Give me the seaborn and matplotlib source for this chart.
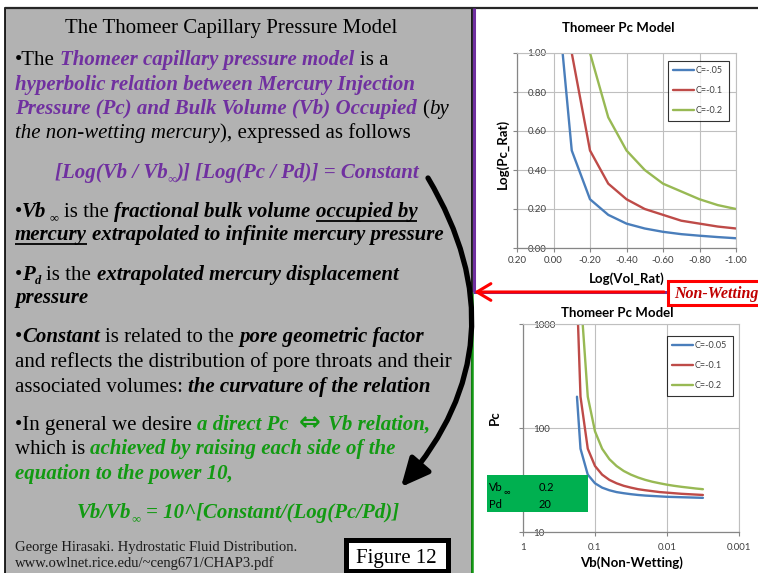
import matplotlib
matplotlib.use('Agg')
import matplotlib.pyplot as plt
import matplotlib.transforms as mtransforms
from matplotlib.patches import Rectangle, FancyArrowPatch
from matplotlib.lines import Line2D
import numpy as np
import pandas as pd
import seaborn as sns

# ---------------- data ----------------
log_vol_rat = [-0.05, -0.1, -0.2, -0.3, -0.4, -0.5, -0.6, -0.7, -0.8, -0.9, -1.0]
log_pc_rat_c005 = [1.00, 0.50, 0.25, 0.17, 0.125, 0.10, 0.083, 0.071, 0.063, 0.056, 0.05]
log_pc_rat_c01 = [2.00, 1.00, 0.50, 0.33, 0.25, 0.20, 0.17, 0.14, 0.125, 0.11, 0.10]
log_pc_rat_c02 = [4.00, 2.00, 1.00, 0.67, 0.50, 0.40, 0.33, 0.29, 0.25, 0.22, 0.20]
top_labels = ['C=-.05', 'C=-0.1', 'C=-0.2']
top_xticks = [0.2, 0.0, -0.2, -0.4, -0.6, -0.8, -1.0]
top_xticklabels = ['0.20', '0.00', '-0.20', '-0.40', '-0.60', '-0.80', '-1.00']
top_yticks = [0.0, 0.2, 0.4, 0.6, 0.8, 1.0]
top_yticklabels = ['0.00', '0.20', '0.40', '0.60', '0.80', '1.00']

vb_nonwetting = [0.178, 0.159, 0.126, 0.100, 0.0796, 0.0632, 0.0502, 0.0399, 0.0317,
                 0.0252, 0.0200, 0.0159, 0.0126, 0.0100, 0.00796, 0.00632, 0.00502,
                 0.00399, 0.00317]
pc_c005 = [200, 63.2, 35.6, 29.4, 26.7, 25.2, 24.2, 23.6, 23.1, 22.7, 22.4, 22.2, 22.0,
           21.8, 21.7, 21.6, 21.5, 21.4, 21.3]
pc_c01 = [2000, 200, 63.2, 43.1, 35.6, 31.7, 29.4, 27.8, 26.7, 25.8, 25.2, 24.7, 24.2,
          23.9, 23.6, 23.3, 23.1, 22.9, 22.7]
pc_c02 = [200000, 2000, 200, 92.8, 63.2, 50.2, 43.1, 38.6, 35.6, 33.4, 31.7, 30.4, 29.4,
          28.5, 27.8, 27.2, 26.7, 26.2, 25.8]
bottom_labels = ['C=-0.05', 'C=-0.1', 'C=-0.2']
bottom_xticks = [1, 0.1, 0.01, 0.001]
bottom_xticklabels = ['1', '0.1', '0.01', '0.001']
bottom_yticks = [10, 100, 1000]
bottom_yticklabels = ['10', '100', '1000']
param_names = ['Vb', 'Pd']
param_values = ['0.2', '20']

line_colors = ['#4a7ebb', '#be4b48', '#98b954']

# ---------------- setup ----------------
sns.set_style('white')
plt.rcParams['font.family'] = ['Lato', 'DejaVu Sans']

W, H = 758, 573
fig = plt.figure(figsize=(W / 100, H / 100), dpi=100)
fig.patch.set_facecolor('white')
T = mtransforms.Affine2D().scale(1.0 / W, -1.0 / H).translate(0, 1) + fig.transFigure
R = fig.canvas.get_renderer()


def frect(x0, y0, x1, y1, **kw):
    r = Rectangle((x0, y0), x1 - x0, y1 - y0, transform=T, **kw)
    fig.add_artist(r)
    return r


def fline(xs, ys, **kw):
    l = Line2D(xs, ys, transform=T, solid_capstyle='butt', **kw)
    fig.add_artist(l)
    return l


# ---------------- left text panel ----------------
frect(5, 8, 472, 580, facecolor='#b2b2b2', edgecolor='black', lw=1.2, zorder=0)
fline([5, 758], [8, 8], color='#262626', lw=1.6, zorder=2)

BODY = 15
SERIF = ['Liberation Serif', 'DejaVu Serif']
PURPLE = '#7030a0'
GREEN = '#129a12'


def sty(kind, size=BODY):
    d = dict(family=SERIF, size=size, color='black', weight='normal', style='normal')
    if kind in ('BI', 'P', 'G'):
        d.update(weight='bold', style='italic')
    if kind == 'I':
        d.update(style='italic')
    if kind == 'P':
        d['color'] = PURPLE
    if kind == 'G':
        d['color'] = GREEN
    return d


def twidth(s, kw):
    if not s:
        return 0.0
    t = fig.text(0, 0, s, **kw)
    w = t.get_window_extent(R).width
    t.remove()
    return w


def rich(y, segs, x=15, center=None, size=BODY):
    items = []
    total = 0.0
    for seg in segs:
        s, kind = seg[0], seg[1]
        opts = seg[2] if len(seg) > 2 else {}
        kw = sty(kind, size * opts.get('scale', 1.0))
        if 'family' in opts:
            kw['family'] = opts['family']
            kw['style'] = 'normal'
        base = sty(kind, size * opts.get('scale', 1.0))
        sp = twidth('x x', base) - twidth('xx', base)
        lead = len(s) - len(s.lstrip(' '))
        trail = len(s) - len(s.rstrip(' '))
        core = s.strip(' ')
        wc = twidth(core, kw)
        items.append((core, kw, total + lead * sp, wc, opts))
        total += lead * sp + wc + trail * sp + opts.get('extra', 0)
    x0 = center - total / 2 if center is not None else x
    for core, kw, off, wc, opts in items:
        if not core:
            continue
        fig.text(x0 + off, y + opts.get('dy', 0), core, transform=T,
                 va='baseline', ha='left', zorder=3, **kw)
        if opts.get('ul'):
            fline([x0 + off, x0 + off + wc], [y + 3.5, y + 3.5], color=kw['color'],
                  lw=1.3, zorder=3)


SUB = {'scale': 0.6, 'dy': 4}
fig.text(231, 33, 'The Thomeer Capillary Pressure Model', transform=T, ha='center',
         va='baseline', family=SERIF, size=BODY, color='black', zorder=3)
rich(65, [('•The ', 'N'), ('Thomeer capillary pressure model', 'P'), (' is a', 'N')])
rich(90, [('hyperbolic relation between Mercury Injection', 'P')])
rich(114, [('Pressure (Pc) and Bulk Volume (Vb) Occupied', 'P'), (' (', 'N'), ('by', 'I')])
rich(138, [('the non-wetting mercury', 'I'), ('), expressed as follows', 'N')])
rich(178, [('[Log(Vb / Vb', 'P'), ('∞', 'P', SUB), (')] [Log(Pc / Pd)] = Constant', 'P')],
     center=237)
rich(217, [('•', 'N'), ('Vb', 'BI'), (' ∞', 'N', SUB), (' is the ', 'N'),
           ('fractional bulk volume ', 'BI'), ('occupied by', 'BI', {'ul': True})])
rich(240, [('mercury', 'BI', {'ul': True}),
           (' extrapolated to infinite mercury pressure', 'BI')])
rich(280, [('•', 'N'), ('P', 'BI'), ('d', 'BI', SUB), (' is the ', 'N'),
           ('extrapolated mercury displacement', 'BI')])
rich(303, [('pressure', 'BI')])
rich(342, [('•', 'N'), ('Constant', 'BI'), (' is related to the ', 'N'),
           ('pore geometric factor', 'BI')])
rich(367, [('and reflects the distribution of pore throats and their', 'N')])
rich(392, [('associated volumes: ', 'N'), ('the curvature of the relation', 'BI')])
rich(430, [('•In general we desire ', 'N'), ('a direct Pc  ', 'G'),
           ('⇔', 'G', {'family': ['DejaVu Sans'], 'scale': 1.25, 'extra': 2, 'dy': 0.5}),
           (' Vb relation,', 'G')])
rich(454, [('which is ', 'N'), ('achieved by raising each side of the', 'G')])
rich(479, [('equation to the power 10,', 'G')])
rich(518, [('Vb/Vb', 'G'), ('∞', 'G', SUB), (' = 10^[Constant/(Log(Pc/Pd)]', 'G')],
     center=238)
fig.text(15, 551, 'George Hirasaki. Hydrostatic Fluid Distribution.', transform=T,
         va='baseline', family=SERIF, size=10.5, color='#1a1a1a', zorder=3)
fig.text(15, 567, 'www.owlnet.rice.edu/~ceng671/CHAP3.pdf', transform=T,
         va='baseline', family=SERIF, size=10.5, color='#1a1a1a', zorder=3)
frect(345.5, 539.5, 447.5, 570.5, facecolor='white', edgecolor='black', lw=3.6, zorder=3)
fig.text(396, 563, 'Figure 12', transform=T, ha='center', va='baseline', family=SERIF,
         size=15, color='black', zorder=4)

# right-side borders and connector
fline([473.5, 473.5], [8, 292], color=PURPLE, lw=2.2, zorder=2)
fline([472, 472], [292, 575], color='#139a13', lw=1.8, zorder=2)
fline([473, 668], [292, 292], color=PURPLE, lw=2.2, zorder=2)
red_arrow = FancyArrowPatch(posA=(664, 292), posB=(474, 292), transform=T,
                            arrowstyle='->,head_length=1.0,head_width=0.6',
                            mutation_scale=10, color='#ff0000', lw=2.2,
                            shrinkA=0, shrinkB=0, zorder=4)
fig.add_artist(red_arrow)
frect(668, 281, 770, 305, facecolor='white', edgecolor='#ff0000', lw=2.2, zorder=5)
fig.text(716, 298, 'Non-Wetting', transform=T, ha='center', va='baseline', family=SERIF,
         weight='bold', style='italic', size=11.5, color='#c00000', zorder=6)

curve_arrow = FancyArrowPatch(posA=(428, 178), posB=(401, 487), transform=T,
                              connectionstyle='arc3,rad=-0.36',
                              arrowstyle='-|>,head_length=0.85,head_width=0.4',
                              mutation_scale=20, color='black', lw=3.8,
                              shrinkA=0, shrinkB=0, zorder=4)
fig.add_artist(curve_arrow)


# ---------------- charts ----------------
def style_axes(ax):
    ax.set_facecolor('white')
    for side in ['top', 'right']:
        ax.spines[side].set_color('#bfbfbf')
        ax.spines[side].set_linewidth(0.8)
    for side in ['left', 'bottom']:
        ax.spines[side].set_color('#868686')
        ax.spines[side].set_linewidth(0.9)
    ax.grid(True, which='major', color='#bfbfbf', lw=0.8)
    ax.grid(False, which='minor')
    ax.set_axisbelow(True)
    ax.tick_params(axis='both', which='major', length=3, width=0.8, color='#868686',
                   labelsize=7, labelcolor='#404040', left=True, bottom=True)
    ax.tick_params(axis='both', which='minor', length=0)
    ax.tick_params(axis='y', pad=-10.5)
    plt.setp(ax.get_yticklabels(), ha='left')


pal_top = dict(zip(top_labels, line_colors))
df_top = pd.DataFrame({
    'Log(Vol_Rat)': log_vol_rat * 3,
    'Log(Pc_Rat)': log_pc_rat_c005 + log_pc_rat_c01 + log_pc_rat_c02,
    'series': [lab for lab in top_labels for _ in log_vol_rat],
})
ax1 = fig.add_axes([517 / W, 1 - 248 / H, 219 / W, 195 / H])
sns.lineplot(data=df_top, x='Log(Vol_Rat)', y='Log(Pc_Rat)', hue='series',
             palette=pal_top, ax=ax1, legend=False, lw=1.7, estimator=None,
             errorbar=None)
ax1.set_xlim(0.2, -1.0)
ax1.set_ylim(0, 1)
ax1.set_xticks(top_xticks, top_xticklabels)
ax1.set_yticks(top_yticks, top_yticklabels)
style_axes(ax1)
ax1.tick_params(axis='x', pad=3)
ax1.set_xlabel('Log(Vol_Rat)', fontsize=9.5, fontweight='bold', color='black')
ax1.set_ylabel('Log(Pc_Rat)', fontsize=9.5, fontweight='bold', color='black')
ax1.xaxis.label.set_va('center')
ax1.yaxis.label.set_va('center')
ax1.xaxis.set_label_coords((627 - 517) / 219, (248 - 279) / 195)
ax1.yaxis.set_label_coords((502 - 517) / 219, (248 - 154) / 195)
fig.text(618, 28, 'Thomeer Pc Model', transform=T, ha='center', va='center',
         fontsize=9.5, fontweight='bold', color='black')
handles = [Line2D([0], [0], color=c, lw=1.7) for c in line_colors]
leg1 = ax1.legend(handles, top_labels, loc='upper left', bbox_to_anchor=(668, 61),
                  bbox_transform=T, frameon=True, fancybox=False, edgecolor='black',
                  fontsize=6.5, handlelength=2.3, handletextpad=0.2, labelspacing=1.2,
                  borderpad=0.6, borderaxespad=0)
leg1.get_frame().set_linewidth(0.8)
for t in leg1.get_texts():
    t.set_color('#404040')

pal_bot = dict(zip(bottom_labels, line_colors))
df_bot = pd.DataFrame({
    'Vb(Non-Wetting)': vb_nonwetting * 3,
    'Pc': pc_c005 + pc_c01 + pc_c02,
    'series': [lab for lab in bottom_labels for _ in vb_nonwetting],
})
ax2 = fig.add_axes([523 / W, 1 - 532 / H, 216 / W, 208 / H])
ax2.set_xscale('log')
ax2.set_yscale('log')
sns.lineplot(data=df_bot, x='Vb(Non-Wetting)', y='Pc', hue='series', palette=pal_bot,
             ax=ax2, legend=False, lw=1.7, estimator=None, errorbar=None)
ax2.set_xlim(1, 0.001)
ax2.set_ylim(10, 1000)
ax2.set_xticks(bottom_xticks, bottom_xticklabels)
ax2.set_yticks(bottom_yticks, bottom_yticklabels)
ax2.xaxis.set_minor_locator(matplotlib.ticker.NullLocator())
ax2.yaxis.set_minor_locator(matplotlib.ticker.NullLocator())
style_axes(ax2)
ax2.tick_params(axis='x', pad=4.6)
ax2.set_xlabel('Vb(Non-Wetting)', fontsize=9.5, fontweight='bold', color='black')
ax2.set_ylabel('Pc', fontsize=9.5, fontweight='bold', color='black')
ax2.xaxis.label.set_va('center')
ax2.yaxis.label.set_va('center')
ax2.xaxis.set_label_coords((632 - 523) / 216, (532 - 563) / 208)
ax2.yaxis.set_label_coords((495 - 523) / 216, (532 - 418) / 208)
fig.text(617, 313, 'Thomeer Pc Model', transform=T, ha='center', va='center',
         fontsize=9.5, fontweight='bold', color='black', zorder=6)
leg2 = ax2.legend(handles, bottom_labels, loc='upper left', bbox_to_anchor=(667, 336),
                  bbox_transform=T, frameon=True, fancybox=False, edgecolor='black',
                  fontsize=6.5, handlelength=2.3, handletextpad=0.2, labelspacing=1.2,
                  borderpad=0.6, borderaxespad=0)
leg2.get_frame().set_linewidth(0.8)
for t in leg2.get_texts():
    t.set_color('#404040')

# parameter box
frect(487, 475, 588, 512, facecolor='#00b050', edgecolor='none', zorder=10)
pkw = dict(transform=T, va='baseline', fontsize=8, color='black', zorder=11)
vb_t = fig.text(489, 491, param_names[0], **pkw)
vb_w = vb_t.get_window_extent(R).width
fig.text(489 + vb_w + 1, 494, '∞', transform=T, va='baseline', fontsize=6.5,
         color='black', zorder=11)
fig.text(539, 491, param_values[0], **pkw)
fig.text(489, 508, param_names[1], **pkw)
fig.text(539, 508, param_values[1], **pkw)

fig.savefig('out.png', dpi=100, facecolor='white')
